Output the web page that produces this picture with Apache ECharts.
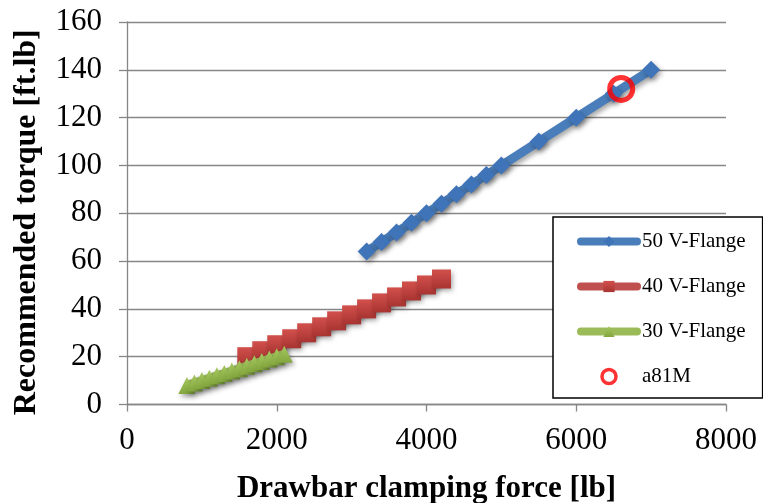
<!DOCTYPE html>
<html>
<head>
<meta charset="utf-8">
<script src="https://cdn.jsdelivr.net/npm/echarts@6/dist/echarts.min.js"></script>
<style>
  html, body { margin: 0; padding: 0; background: #fff; }
  #chart { width: 763px; height: 503px; }
</style>
</head>
<body>
<div id="chart"></div>
<script>
// Drawbar clamping force [lb] vs recommended torque [ft.lb]
const force50 = [3200, 3400, 3600, 3800, 4000, 4200, 4400, 4600, 4800, 5000, 5500, 6000, 6500, 7000];
const torque50 = [64, 68, 72, 76, 80, 84, 88, 92, 96, 100, 110, 120, 130, 140];

const force40 = [1600, 1800, 2000, 2200, 2400, 2600, 2800, 3000, 3200, 3400, 3600, 3800, 4000, 4200];
const torque40 = [20, 22.5, 25, 27.5, 30, 32.5, 35, 37.5, 40, 42.5, 45, 47.5, 50, 52.5];

const force30 = [800, 900, 1000, 1100, 1200, 1300, 1400, 1500, 1600, 1700, 1800, 1900, 2000, 2100];
const torque30 = [8, 9, 10, 11, 12, 13, 14, 15, 16, 17, 18, 19, 20, 21];

const forceA81M = [6600];
const torqueA81M = [132];

const seriesNames = ['50 V-Flange', '40 V-Flange', '30 V-Flange', 'a81M'];

const xTicks = { min: 0, max: 8000, interval: 2000 };
const yTicks = { min: 0, max: 160, interval: 20 };

function pairs(xs, ys) {
  return xs.map((x, i) => [x, ys[i]]);
}

const serif = "'Liberation Serif', 'Times New Roman', serif";
const gray = '#878787';
const shadow = {
  shadowColor: 'rgba(0,0,0,0.35)',
  shadowBlur: 5,
  shadowOffsetX: 2,
  shadowOffsetY: 3
};
const plain = v => String(v);

const chart = echarts.init(document.getElementById('chart'), null, { renderer: 'canvas' });

chart.setOption({
  animation: false,
  backgroundColor: '#ffffff',
  grid: { left: 127, right: 37, top: 22, bottom: 98.5, containLabel: false, outerBoundsMode: 'none' },
  xAxis: {
    type: 'value',
    min: xTicks.min, max: xTicks.max, interval: xTicks.interval,
    name: 'Drawbar clamping force [lb]',
    nameLocation: 'middle',
    nameGap: 69,
    nameTextStyle: { fontFamily: serif, fontSize: 31, fontWeight: 'bold', color: '#000' },
    axisLine: { show: true, lineStyle: { color: gray, width: 1.3 } },
    axisTick: { show: true, length: 7, lineStyle: { color: gray, width: 1.3 } },
    axisLabel: { fontFamily: serif, fontSize: 31, color: '#000', margin: 21, formatter: plain },
    splitLine: { show: false }
  },
  yAxis: {
    type: 'value',
    min: yTicks.min, max: yTicks.max, interval: yTicks.interval,
    name: 'Recommended torque [ft.lb]',
    nameLocation: 'middle',
    nameRotate: 90,
    nameGap: 84,
    nameTextStyle: { fontFamily: serif, fontSize: 32, fontWeight: 'bold', color: '#000', padding: [0, 18, 0, 0] },
    axisLine: { show: true, lineStyle: { color: gray, width: 1.3 } },
    axisTick: { show: true, length: 8, lineStyle: { color: gray, width: 1.3 } },
    axisLabel: { fontFamily: serif, fontSize: 31, color: '#000', margin: 25, formatter: plain },
    splitLine: { show: true, lineStyle: { color: gray, width: 1.3 } }
  },
  legend: {
    orient: 'vertical',
    left: 553,
    top: 217,
    padding: [14, 17, 11, 24],
    itemGap: 24,
    itemWidth: 56,
    itemHeight: 14,
    backgroundColor: '#ffffff',
    borderColor: '#000000',
    borderWidth: 1.5,
    borderRadius: 0,
    lineStyle: { width: 8, cap: 'round' },
    textStyle: { fontFamily: serif, fontSize: 21, color: '#000' },
    data: [
      { name: seriesNames[0] },
      { name: seriesNames[1] },
      { name: seriesNames[2] },
      { name: seriesNames[3], itemStyle: { borderWidth: 3.5 } }
    ]
  },
  series: [
    {
      name: seriesNames[0],
      type: 'line',
      data: pairs(force50, torque50),
      symbol: 'diamond',
      symbolSize: 18,
      showSymbol: true,
      lineStyle: Object.assign({ color: '#4a7ebb', width: 9 }, shadow),
      itemStyle: Object.assign({ color: '#3f74b9' }, shadow),
      z: 2
    },
    {
      name: seriesNames[1],
      type: 'line',
      data: pairs(force40, torque40),
      symbol: 'rect',
      symbolSize: 19,
      lineStyle: Object.assign({ color: '#c0504d', width: 9 }, shadow),
      itemStyle: Object.assign({
        color: new echarts.graphic.LinearGradient(0, 0, 0, 1, [
          { offset: 0, color: '#d2504c' },
          { offset: 1, color: '#a83431' }
        ])
      }, shadow),
      z: 3
    },
    {
      name: seriesNames[2],
      type: 'line',
      data: pairs(force30, torque30),
      symbol: 'triangle',
      symbolSize: 17,
      lineStyle: Object.assign({ color: '#9bbb59', width: 9 }, shadow),
      itemStyle: Object.assign({
        color: new echarts.graphic.LinearGradient(0, 0, 0, 1, [
          { offset: 0, color: '#a6c85f' },
          { offset: 1, color: '#83a63f' }
        ])
      }, shadow),
      z: 4
    },
    {
      name: seriesNames[3],
      type: 'scatter',
      data: pairs(forceA81M, torqueA81M),
      symbol: 'circle',
      symbolSize: 23,
      itemStyle: { color: 'rgba(255,255,255,0)', borderColor: '#ff0000', borderWidth: 5 },
      z: 5
    }
  ]
});
</script>
</body>
</html>
